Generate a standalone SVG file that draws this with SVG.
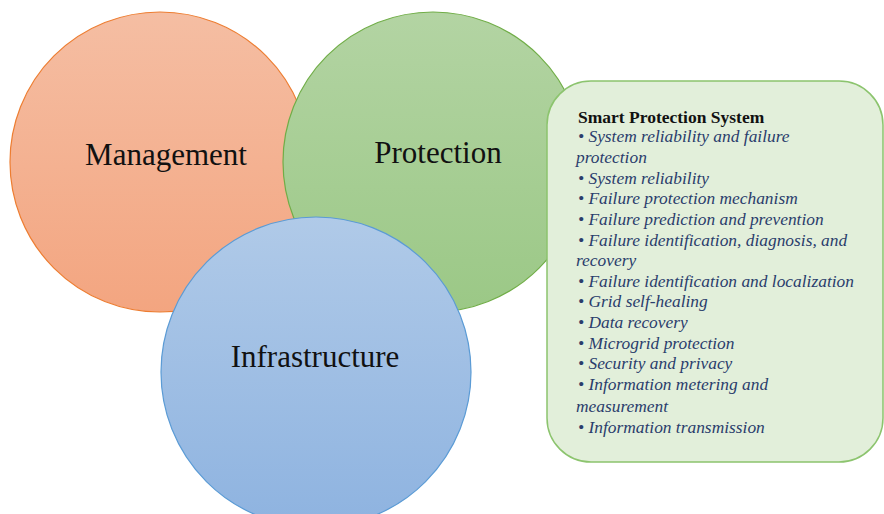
<svg xmlns="http://www.w3.org/2000/svg" width="884" height="514" viewBox="0 0 884 514">
<defs>
<linearGradient id="gO" x1="0" y1="0" x2="0" y2="1"><stop offset="0" stop-color="#F5BEA3"/><stop offset="1" stop-color="#F3A580"/></linearGradient>
<linearGradient id="gG" x1="0" y1="0" x2="0" y2="1"><stop offset="0" stop-color="#B3D4A3"/><stop offset="1" stop-color="#9BC886"/></linearGradient>
<linearGradient id="gB" x1="0" y1="0" x2="0" y2="1"><stop offset="0" stop-color="#B0CAE8"/><stop offset="1" stop-color="#8EB3E0"/></linearGradient>
</defs>
<style>
.lbl{font-family:"Liberation Serif","Times New Roman",serif;font-size:31px;fill:#111;text-anchor:middle}
.ttl{font-family:"Liberation Serif","Times New Roman",serif;font-size:17.5px;font-weight:bold;fill:#111}
.it{font-family:"Liberation Serif","Times New Roman",serif;font-size:17.4px;font-style:italic;fill:#2A3D6C}
</style>
<rect width="884" height="514" fill="#fff"/>
<g id="management">
<circle cx="160" cy="162" r="150" fill="url(#gO)" stroke="#ED7D31" stroke-width="1.2"/>
<text class="lbl" x="166" y="165">Management</text>
</g>
<g id="protection">
<circle cx="433" cy="162" r="150" fill="url(#gG)" stroke="#70AD47" stroke-width="1.2"/>
<text class="lbl" x="438" y="163">Protection</text>
</g>
<g id="infrastructure">
<circle cx="316" cy="372" r="155" fill="url(#gB)" stroke="#5B9BD5" stroke-width="1.2"/>
<text class="lbl" x="315" y="367">Infrastructure</text>
</g>
<g id="smart-protection-system">
<rect x="547" y="81" width="336" height="381" rx="44" ry="44" fill="#E2EFDA" stroke="#8CC46E" stroke-width="1.5"/>
<text class="ttl" x="578" y="123">Smart Protection System</text>
<text class="it" x="578" y="142">• System reliability and failure</text>
<text class="it" x="576" y="163">protection</text>
<text class="it" x="578" y="184">• System reliability</text>
<text class="it" x="578" y="204">• Failure protection mechanism</text>
<text class="it" x="578" y="225">• Failure prediction and prevention</text>
<text class="it" x="578" y="246">• Failure identification, diagnosis, and</text>
<text class="it" x="576" y="266">recovery</text>
<text class="it" x="578" y="287">• Failure identification and localization</text>
<text class="it" x="578" y="307">• Grid self-healing</text>
<text class="it" x="578" y="328">• Data recovery</text>
<text class="it" x="578" y="349">• Microgrid protection</text>
<text class="it" x="578" y="369">• Security and privacy</text>
<text class="it" x="578" y="390">• Information metering and</text>
<text class="it" x="576" y="412">measurement</text>
<text class="it" x="578" y="433">• Information transmission</text>
</g>
<g id="connectors"/>
</svg>
